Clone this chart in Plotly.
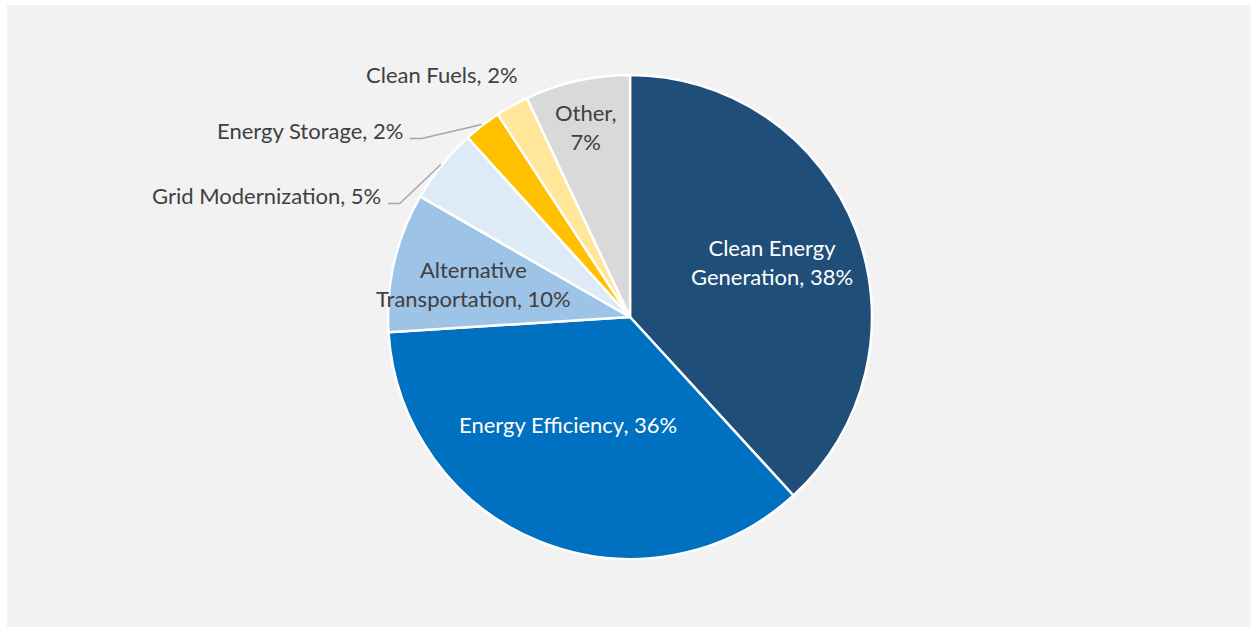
import math
import plotly.graph_objects as go

# ---- data ----
categories = ["Clean Energy Generation", "Energy Efficiency", "Alternative Transportation",
              "Grid Modernization", "Energy Storage", "Clean Fuels", "Other"]
values = [38.2, 35.8, 9.3, 5.0, 2.5, 2.2, 7.0]
shown_pct = [38, 36, 10, 5, 2, 2, 7]
label_text = ["Clean Energy<br>Generation, 38%", "Energy Efficiency, 36%",
              "Alternative<br>Transportation, 10%", "Grid Modernization, 5%",
              "Energy Storage, 2%", "Clean Fuels, 2%", "Other,<br>7%"]

# ---- style / layout ----
colors = ["#1f4e79", "#0070c0", "#9dc3e6", "#deebf7", "#ffc000", "#ffe699", "#d9d9d9"]
text_colors = ["#ffffff", "#ffffff", "#404040", "#404040", "#404040", "#404040", "#404040"]
FONT = "Lato"
FSIZE = 22
W, H = 1251, 627
CX, CY, R = 630, 317, 242

# inside label placement: (radius fraction, angle offset deg) ; None = outside
inside_cfg = [(0.628, 0.0), (0.515, 8.0), (0.661, -1.2), None, None, None, (0.806, -0.7)]
# outside label placement: pixel offset of label's right-middle from slice edge point, leader?
outside_cfg = {3: (-58, 31, True), 4: (-77, 6, True), 5: (8, -30, False)}


def px(x):
    return x / W


def py(y):
    return 1 - y / H


def point(theta_deg, r):
    t = math.radians(theta_deg)
    return CX + r * math.sin(t), CY - r * math.cos(t)


total = sum(values)
mids = []
acc = 0.0
for v in values:
    a0 = acc / total * 360
    acc += v
    a1 = acc / total * 360
    mids.append((a0 + a1) / 2)

fig = go.Figure()
fig.add_trace(go.Pie(
    values=values, labels=categories, sort=False, direction="clockwise", rotation=0,
    textinfo="none", hoverinfo="label+percent",
    marker=dict(colors=colors, line=dict(color="#ffffff", width=2.5)),
    domain=dict(x=[px(CX - R), px(CX + R)], y=[py(CY + R), py(CY - R)]),
    showlegend=False,
))

annotations = []
shapes = [dict(type="rect", xref="paper", yref="paper", x0=px(7), x1=1.0, y0=-0.01, y1=py(5),
               fillcolor="#f2f2f2", line=dict(width=0), layer="below")]

for i, txt in enumerate(label_text):
    cfg = inside_cfg[i]
    if cfg is not None:
        rf, dang = cfg
        x, y = point(mids[i] + dang, rf * R)
        annotations.append(dict(x=px(x), y=py(y), xref="paper", yref="paper", text=txt,
                                showarrow=False, xanchor="center", yanchor="middle",
                                font=dict(family=FONT, size=FSIZE, color=text_colors[i])))
    else:
        ox, oy, leader = outside_cfg[i]
        ex, ey = point(mids[i], R + 1)
        lx, ly = ex + ox, ey + oy
        annotations.append(dict(x=px(lx), y=py(ly), xref="paper", yref="paper", text=txt,
                                showarrow=False, xanchor="right", yanchor="middle",
                                font=dict(family=FONT, size=FSIZE, color=text_colors[i])))
        if leader:
            yl = ly + 8
            path = "M {} {} L {} {} L {} {}".format(px(ex), py(ey), px(lx + 17), py(yl),
                                                    px(lx + 5), py(yl))
            shapes.append(dict(type="path", xref="paper", yref="paper", path=path,
                               line=dict(color="#a6a6a6", width=1.4)))

fig.update_layout(
    width=W, height=H, margin=dict(l=0, r=0, t=0, b=0),
    paper_bgcolor="#ffffff", plot_bgcolor="#ffffff",
    annotations=annotations, shapes=shapes,
    font=dict(family=FONT, size=FSIZE, color="#404040"),
)

fig.write_html("out.html", config={"displayModeBar": False},
               post_script="document.body.style.margin='0';document.body.style.overflow='hidden';")
